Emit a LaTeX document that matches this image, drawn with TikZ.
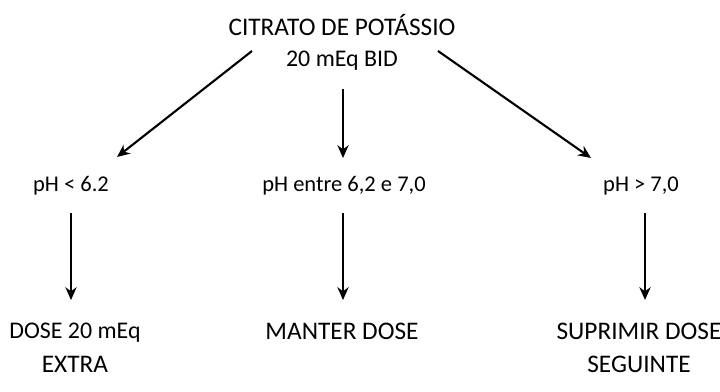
\documentclass[tikz,border=0pt]{standalone}
\usepackage{fontspec}
\setmainfont{Carlito}
\usetikzlibrary{arrows.meta}
\usetikzlibrary{positioning}

\begin{document}
\begin{tikzpicture}[x=0.025cm,y=-0.025cm,
    lbl/.style={font=\fontsize{18}{21}\selectfont, align=center, inner sep=1pt},
    phlbl/.style={lbl, font=\fontsize{16}{19}\selectfont},
    seta/.style={line width=1.5pt, -{Stealth[length=3.2mm,width=2.8mm]}}]
    \useasboundingbox (0,0) rectangle (720,392);
    % Define nodes
    \node[lbl] (top) at (342,42.5) {CITRATO DE POTÁSSIO\\[1pt] {\fontsize{17}{20}\selectfont 20 mEq BID}};
    \node[phlbl] (low) at (71,186) {pH < 6.2};
    \node[phlbl] (mid) at (344,186) {pH entre 6,2 e 7,0};
    \node[phlbl] (high) at (641,186) {pH > 7,0};
    \node[lbl] (extra) at (75,348) {{\fontsize{17}{20}\selectfont DOSE 20 mEq}\\[3pt] EXTRA};
    \node[lbl] (keep) at (342,331) {MANTER DOSE};
    \node[lbl] (skip) at (639,348) {SUPRIMIR DOSE\\[3pt] SEGUINTE};

    % Arrow ends
    \coordinate (tl) at (252,51);
    \coordinate (tm) at (343,89);
    \coordinate (tr) at (438,51);
    \coordinate (pl) at (117,157);
    \coordinate (pm) at (343,158);
    \coordinate (pr) at (591,158);
    \coordinate (bl) at (71,213);
    \coordinate (bm) at (343,213);
    \coordinate (br) at (645,213);
    \coordinate (el) at (71,300);
    \coordinate (em) at (343,300);
    \coordinate (er) at (645,300);

    % Draw arrows
    \draw[seta] (tl) -- (pl);
    \draw[seta] (tm) -- (pm);
    \draw[seta] (tr) -- (pr);
    \draw[seta] (bl) -- (el);
    \draw[seta] (bm) -- (em);
    \draw[seta] (br) -- (er);
\end{tikzpicture}
\end{document}
